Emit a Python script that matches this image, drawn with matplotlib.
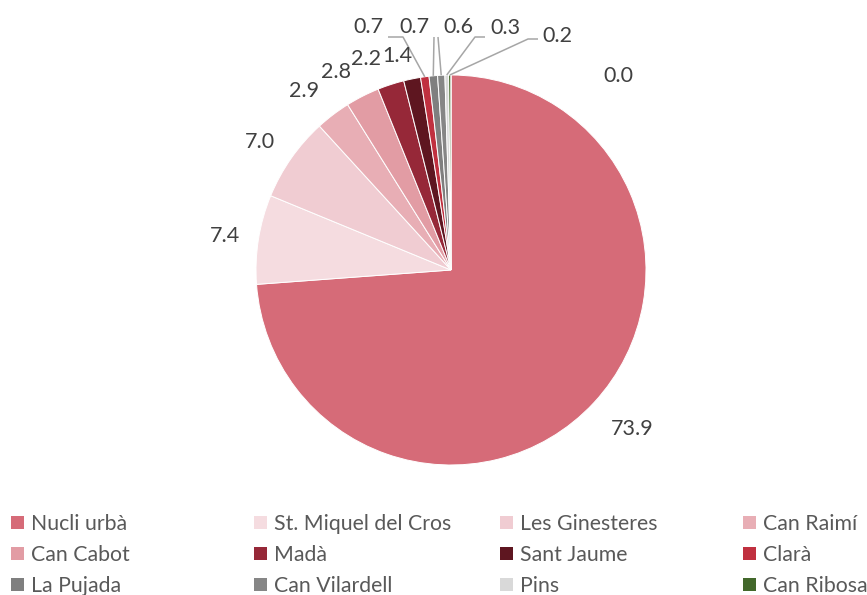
import matplotlib
matplotlib.use("Agg")
import matplotlib.pyplot as plt
from matplotlib.patches import Patch
import numpy as np

plt.rcParams['font.family'] = ['Lato', 'DejaVu Sans']

# data
categories = ["Nucli urbà", "St. Miquel del Cros", "Les Ginesteres", "Can Raimí",
              "Can Cabot", "Madà", "Sant Jaume", "Clarà",
              "La Pujada", "Can Vilardell", "Pins", "Can Ribosa", ""]
values = [73.9, 7.4, 7.0, 2.9, 2.8, 2.2, 1.4, 0.7, 0.7, 0.6, 0.3, 0.2, 0.0]
colors = ["#D66B78", "#F5DCE0", "#F0CCD2", "#E8AEB5",
          "#E29CA4", "#962838", "#5E1620", "#C0303F",
          "#7F7F7F", "#868686", "#D9D9D9", "#43682B", "#4472C4"]

# layout: label positions in pixels (x centre, baseline y from top)
label_px = [(632, 435), (225, 242), (260, 148), (304, 97), (336, 78), (366, 65),
            (397, 62), (368, 33), (414, 33), (458, 33), (505, 34), (557, 42), (618, 82)]
# leader line bends (pixels) for the small slices
leaders = {7: [(403, 37), (388, 37)], 8: [(434, 37)], 9: [(438, 37)],
           10: [(475, 37), (485, 37)], 11: [(528, 39), (538, 39)]}

W, H = 867, 595
CX, CY, R = 451, 270, 195


def px2d(p):
    return ((p[0] - CX) / R, (CY - p[1]) / R)


fig = plt.figure(figsize=(W / 100, H / 100), dpi=100)
ax = fig.add_axes([0, 0, 1, 1])
wedges, _ = ax.pie(values, colors=colors, startangle=90, counterclock=False,
                   radius=1, wedgeprops=dict(edgecolor="white", linewidth=0.7))
ax.set_xlim(-CX / R, (W - CX) / R)
ax.set_ylim((CY - H) / R, CY / R)
ax.set_aspect("equal")
ax.axis("off")

for i, w in enumerate(wedges):
    x, y = px2d(label_px[i])
    ax.text(x, y, f"{values[i]:.1f}", ha="center", va="baseline",
            fontsize=15.5, color="#404040")
    if i in leaders:
        ang = np.deg2rad((w.theta1 + w.theta2) / 2)
        pts = [(np.cos(ang), np.sin(ang))] + [px2d(p) for p in leaders[i]]
        xs, ys = zip(*pts)
        ax.plot(xs, ys, color="#A6A6A6", lw=1.1, solid_capstyle="butt")

# legend: four columns, entries in row order
handles = [Patch(facecolor=c, edgecolor="none") for c in colors[:12]]
col_x = [11, 254, 500, 743]
for j in range(4):
    fig.legend(handles[j::4], categories[:12][j::4], loc="upper left",
               bbox_to_anchor=(col_x[j] / W, 1 - 514 / H), frameon=False,
               fontsize=15.3, labelcolor="#595959", borderpad=0, borderaxespad=0,
               handlelength=0.63, handleheight=0.6, handletextpad=0.3,
               labelspacing=0.52)

fig.savefig("out.png", dpi=100)
